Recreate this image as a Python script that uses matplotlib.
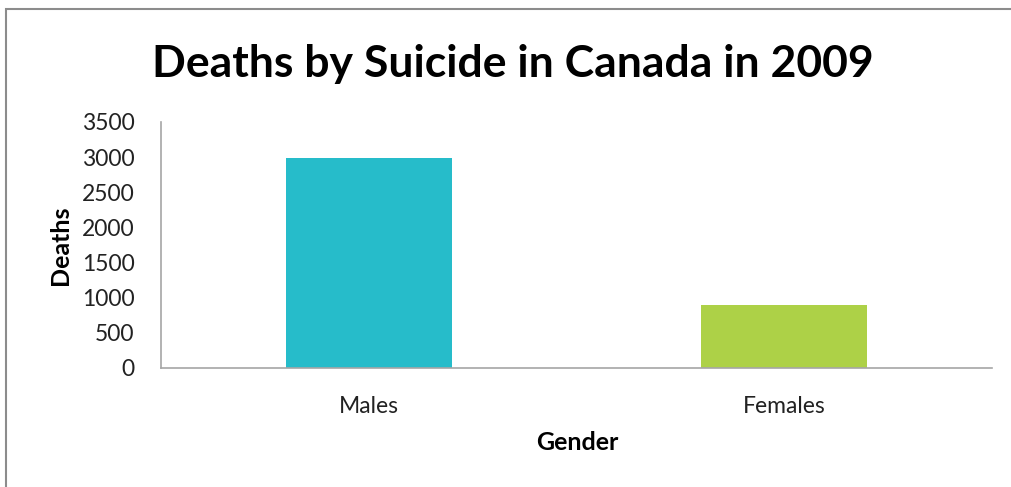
import matplotlib
matplotlib.use('Agg')
import matplotlib.pyplot as plt
from matplotlib.patches import Rectangle

# data
genders = ['Males', 'Females']
deaths = [2989, 901]
bar_colors = ['#26BCCA', '#ADD147']
y_ticks = [0, 500, 1000, 1500, 2000, 2500, 3000, 3500]

plt.rcParams['font.family'] = ['Lato', 'DejaVu Sans']

fig = plt.figure(figsize=(10.11, 4.87), dpi=100)
W, H = 1011, 487

# outer chart frame (cut off on the right and bottom like the screenshot)
fig.patches.append(Rectangle((6 / W, -0.1), 1.2, (H - 9) / H + 0.1,
                             transform=fig.transFigure, fill=False,
                             edgecolor='#8c8c8c', linewidth=1.5))

ax = fig.add_axes([161 / W, (H - 368) / H, (992 - 161) / W, (368 - 122) / H])
ax.bar(range(len(genders)), deaths, width=0.4, color=bar_colors)

ax.set_xlim(-0.5, 1.5)
ax.set_ylim(0, 3500)
ax.set_yticks(y_ticks)
ax.set_xticks(range(len(genders)))
ax.set_xticklabels(genders)
ax.tick_params(axis='both', length=0, labelsize=16.5, colors='#222222')
ax.tick_params(axis='y', pad=19)
ax.tick_params(axis='x', pad=20)

for s in ['top', 'right']:
    ax.spines[s].set_visible(False)
for s in ['left', 'bottom']:
    ax.spines[s].set_color('#a6a6a6')
    ax.spines[s].set_linewidth(1.2)

fig.text(513 / W, 1 - 64 / H, 'Deaths by Suicide in Canada in 2009',
         ha='center', va='center', fontsize=32, fontweight='bold')
fig.text(60 / W, 1 - 245 / H, 'Deaths', rotation=90, ha='center', va='center',
         fontsize=18, fontweight='bold')
fig.text(577 / W, 1 - 442 / H, 'Gender', ha='center', va='center',
         fontsize=18, fontweight='bold')

fig.savefig('out.png', dpi=100)
